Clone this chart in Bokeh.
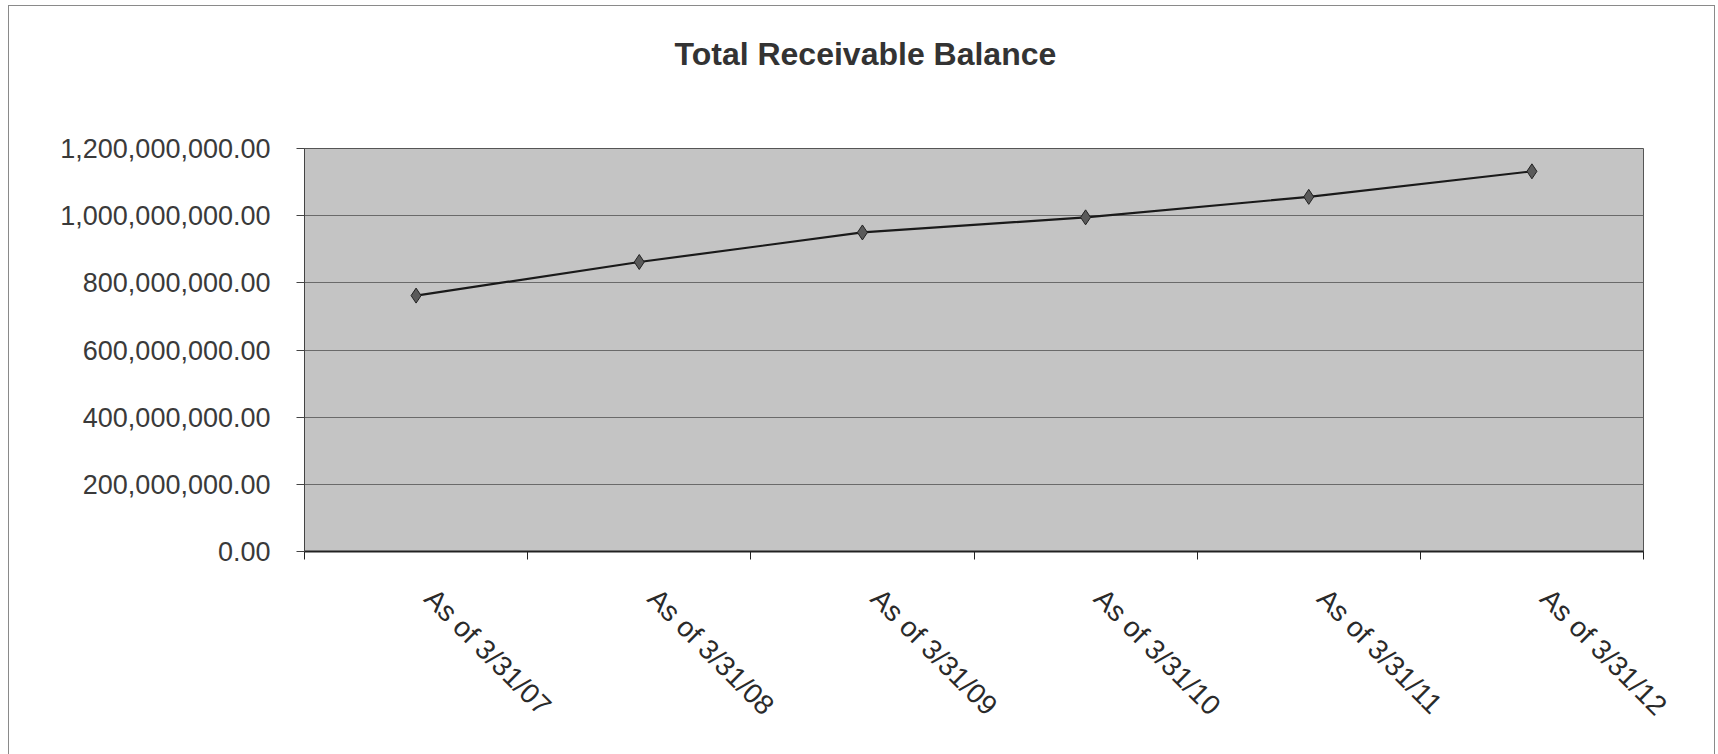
import math
from bokeh.plotting import figure
from bokeh.models import (ColumnDataSource, FixedTicker, NumeralTickFormatter,
                          CustomJSTickFormatter, Range1d, Title)
from bokeh.embed import file_html
from bokeh.resources import INLINE

# ---- data ----
categories = ["As of 3/31/07", "As of 3/31/08", "As of 3/31/09",
              "As of 3/31/10", "As of 3/31/11", "As of 3/31/12"]
balances = [762_000_000, 862_000_000, 950_000_000,
            995_000_000, 1_056_000_000, 1_132_000_000]
y_ticks = [0, 200_000_000, 400_000_000, 600_000_000,
           800_000_000, 1_000_000_000, 1_200_000_000]
title_text = "Total Receivable Balance"

xs = [i + 0.5 for i in range(len(categories))]
src = ColumnDataSource(dict(x=xs, y=balances, label=categories))

FONT = "Liberation Sans"

p = figure(width=1707, height=749, output_backend="svg", toolbar_location=None,
           x_range=Range1d(0, len(categories)), y_range=Range1d(0, 1_200_000_000),
           min_border_left=295, min_border_right=73, min_border_top=142,
           min_border_bottom=204)
p.styles = {"border-top": "1px solid #8a8a8a", "border-left": "1px solid #8a8a8a",
            "border-right": "1px solid #8a8a8a",
            "margin-left": "8px", "margin-top": "5px"}

p.background_fill_color = "#c4c4c4"
p.border_fill_color = "white"
p.outline_line_color = "#555555"
p.outline_line_width = 1

# title; two trailing blank lines lift it well above the plot area
p.add_layout(Title(text=title_text + "\n\n", text_font=FONT, text_font_size="32px",
                   text_font_style="bold", text_color="#333333",
                   text_line_height=1.0, align="left", offset=370, standoff=10),
             "above")

# x axis: boundary tick marks (minor), labels near category centres
label_ticks = [x + 0.06 for x in xs]
p.xaxis.ticker = FixedTicker(ticks=label_ticks,
                             minor_ticks=list(range(len(categories) + 1)))
p.xaxis.formatter = CustomJSTickFormatter(args=dict(labels=categories),
                                          code="return labels[Math.floor(tick)] || '';")
p.xaxis.major_tick_line_color = None
p.xaxis.minor_tick_line_color = "#222222"
p.xaxis.minor_tick_in = 0
p.xaxis.minor_tick_out = 8
p.xaxis.axis_line_color = "#222222"
p.xaxis.axis_line_width = 2
p.xaxis.major_label_orientation = -math.pi / 4
p.xaxis.major_label_standoff = 34
p.xaxis.major_label_text_font = FONT
p.xaxis.major_label_text_font_size = "28px"
p.xaxis.major_label_text_color = "#2a2a2a"

# y axis
p.yaxis.ticker = FixedTicker(ticks=y_ticks)
p.yaxis.formatter = NumeralTickFormatter(format="0,0.00")
p.yaxis.minor_tick_line_color = None
p.yaxis.major_tick_in = 0
p.yaxis.major_tick_out = 8
p.yaxis.major_tick_line_color = "#444444"
p.yaxis.axis_line_color = "#444444"
p.yaxis.major_label_standoff = 26
p.yaxis.major_label_text_font = FONT
p.yaxis.major_label_text_font_size = "27px"
p.yaxis.major_label_text_color = "#3a3a3a"

p.xgrid.grid_line_color = None
p.ygrid.ticker = FixedTicker(ticks=y_ticks)
p.ygrid.grid_line_color = "#6a6a6a"
p.ygrid.grid_line_width = 1

p.line("x", "y", source=src, line_color="#1a1a1a", line_width=2.2)
p.scatter("x", "y", source=src, marker="diamond", size=15,
          fill_color="#5a5a5a", line_color="#222222", line_width=1)

open("out.html", "w").write(file_html(p, INLINE))
